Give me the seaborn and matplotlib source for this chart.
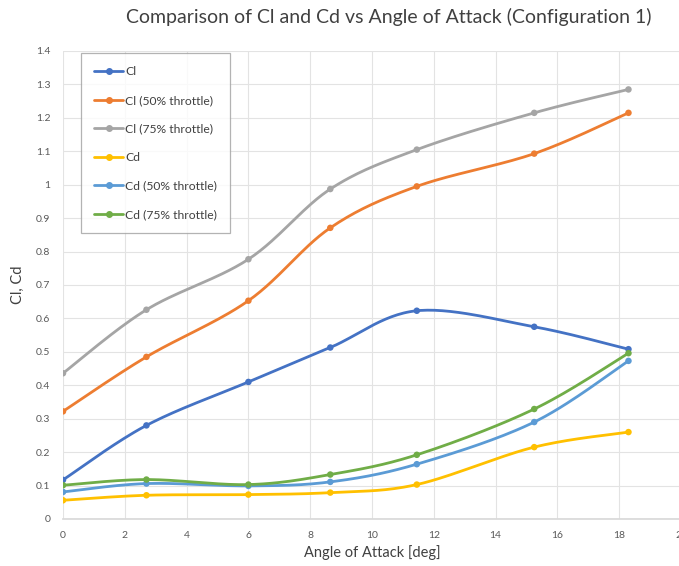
import numpy as np
import pandas as pd
import matplotlib
matplotlib.use("Agg")
import matplotlib.pyplot as plt
from matplotlib.lines import Line2D
from matplotlib.ticker import FuncFormatter
import seaborn as sns

# Angle of attack for each measurement
aoa = [0.0, 2.7, 6.0, 8.65, 11.45, 15.25, 18.3]

cl = [0.117, 0.28, 0.41, 0.513, 0.623, 0.575, 0.508]
cl_50 = [0.322, 0.485, 0.653, 0.871, 0.995, 1.093, 1.215]
cl_75 = [0.436, 0.626, 0.777, 0.987, 1.105, 1.215, 1.285]
cd = [0.056, 0.071, 0.073, 0.079, 0.103, 0.215, 0.26]
cd_50 = [0.081, 0.106, 0.099, 0.111, 0.164, 0.29, 0.473]
cd_75 = [0.101, 0.118, 0.103, 0.133, 0.192, 0.329, 0.496]

series_names = ["Cl", "Cl (50% throttle)", "Cl (75% throttle)",
                "Cd", "Cd (50% throttle)", "Cd (75% throttle)"]
series_values = [cl, cl_50, cl_75, cd, cd_50, cd_75]
colors = ["#4472C4", "#ED7D31", "#A5A5A5", "#FFC000", "#5B9BD5", "#70AD47"]

x_ticks = list(range(0, 21, 2))
y_ticks = [round(0.1 * i, 1) for i in range(15)]


def smooth_curve(x, y, n=30):
    """Catmull-Rom curve through the measured points (smoothed line style)."""
    pts = np.column_stack([x, y]).astype(float)
    P = np.vstack([pts[0], pts, pts[-1]])
    t = np.linspace(0, 1, n, endpoint=False)[:, None]
    segs = []
    for i in range(1, len(P) - 2):
        p0, p1, p2, p3 = P[i - 1], P[i], P[i + 1], P[i + 2]
        c = 0.5 * ((2 * p1) + (-p0 + p2) * t
                   + (2 * p0 - 5 * p1 + 4 * p2 - p3) * t ** 2
                   + (-p0 + 3 * p1 - 3 * p2 + p3) * t ** 3)
        segs.append(c)
    segs.append(pts[-1:])
    return np.vstack(segs)


points = pd.DataFrame({
    "aoa": np.tile(aoa, len(series_names)),
    "value": np.concatenate(series_values),
    "series": np.repeat(series_names, len(aoa)),
})

curves = []
for name, vals in zip(series_names, series_values):
    c = smooth_curve(aoa, vals)
    curves.append(pd.DataFrame({"aoa": c[:, 0], "value": c[:, 1], "series": name}))
curves = pd.concat(curves, ignore_index=True)

sns.set_theme(style="white")
plt.rcParams["font.family"] = ["Lato", "DejaVu Sans"]

palette = dict(zip(series_names, colors))

fig = plt.figure(figsize=(6.79, 5.66), dpi=100)
ax = fig.add_axes([63 / 679, 1 - 519 / 566, 618 / 679, 468 / 566])

sns.lineplot(data=curves, x="aoa", y="value", hue="series", palette=palette,
             hue_order=series_names, sort=False, estimator=None, units="series",
             linewidth=2.0, legend=False, ax=ax)
sns.scatterplot(data=points, x="aoa", y="value", hue="series", palette=palette,
                hue_order=series_names, s=22, edgecolor="none", legend=False,
                ax=ax, zorder=3)

ax.set_xlim(0, 20)
ax.set_ylim(0, 1.4)
ax.set_xticks(x_ticks)
ax.set_yticks(y_ticks)
ax.yaxis.set_major_formatter(FuncFormatter(lambda v, p: f"{v:g}"))
ax.grid(True, color="#e3e3e3", linewidth=0.8)
ax.set_axisbelow(True)
for s in ["top", "right", "left"]:
    ax.spines[s].set_visible(False)
ax.spines["bottom"].set_color("#d9d9d9")
ax.tick_params(axis="both", labelsize=7.5, colors="#595959", length=0)
ax.tick_params(axis="x", pad=9)
ax.tick_params(axis="y", pad=9)

ax.set_xlabel("Angle of Attack [deg]", fontsize=10.5, color="#404040", labelpad=3)
ax.set_ylabel("Cl, Cd", fontsize=10.5, color="#404040", labelpad=8)
fig.text(389 / 679, 1 - 17 / 566,
         "Comparison of Cl and Cd vs Angle of Attack (Configuration 1)",
         fontsize=14, color="#404040", ha="center", va="center")

handles = [Line2D([0], [0], color=c, lw=2, marker="o", markersize=4) for c in colors]
leg = ax.legend(handles, series_names, loc="upper left",
                bbox_to_anchor=(18 / 618, 1 - 2 / 468),
                fontsize=8.7, labelspacing=1.45, handlelength=2.4, handletextpad=0.15,
                borderpad=1.1, frameon=True, fancybox=False, borderaxespad=0.0)
leg.get_frame().set_edgecolor("#a0a0a0")
leg.get_frame().set_linewidth(0.9)
for t in leg.get_texts():
    t.set_color("#404040")

fig.savefig("out.png", dpi=100)
